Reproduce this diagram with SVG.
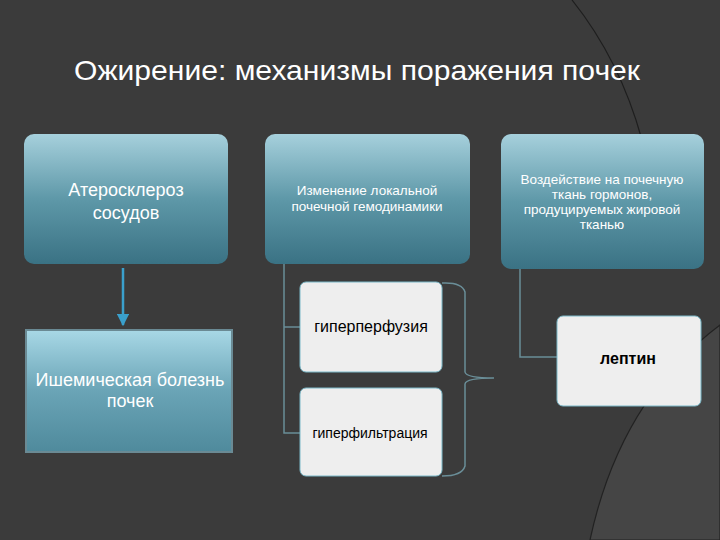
<svg xmlns="http://www.w3.org/2000/svg" width="720" height="540" viewBox="0 0 720 540">
<defs>
<linearGradient id="g1" x1="0" y1="0" x2="0" y2="1"><stop offset="0" stop-color="#a6d0dc"/><stop offset="0.5" stop-color="#5e98a8"/><stop offset="1" stop-color="#3a7284"/></linearGradient>
<linearGradient id="g2" x1="0" y1="0" x2="0" y2="1"><stop offset="0" stop-color="#a8d8e6"/><stop offset="0.5" stop-color="#6aa4b6"/><stop offset="1" stop-color="#4f8a9c"/></linearGradient>
<marker id="ar" viewBox="0 0 10 10" refX="9" refY="5" markerWidth="5" markerHeight="5" orient="auto"><path d="M0,0L10,5L0,10z" fill="#3aa0cc"/></marker>
</defs>
<style>
.t{font-family:"Liberation Sans",Arial,sans-serif;text-anchor:middle}
.w{fill:#fff}.k{fill:#000}
.c{fill:none;stroke:#6a8e98;stroke-width:1.5}
.wb{fill:#eeeeee;stroke:#7ab8c8;stroke-width:1}
</style>
<rect width="720" height="540" fill="#3b3b3b"/>
<path d="M572,0 Q620,60 642,140" fill="none" stroke="#1e1e1e" stroke-width="1.2"/>
<path d="M720,325 Q620,400 590,540 L720,540z" fill="#454545" stroke="#222" stroke-width="1.2"/>
<text x="357" y="80" class="t w" font-size="28" textLength="566" lengthAdjust="spacingAndGlyphs">Ожирение: механизмы поражения почек</text>
<g id="connectors">
<line x1="123" y1="268" x2="123" y2="325" stroke="#3aa0cc" stroke-width="2.5" marker-end="url(#ar)"/>
<polyline class="c" points="284,264 284,433 300,433"/>
<line class="c" x1="284" y1="327" x2="300" y2="327"/>
<polyline class="c" points="520,269 520,357 557,357"/>
<path class="c" d="M442,283 Q462,282 465,292 L465,372 Q466,378 494,378 Q466,378 465,384 L465,466 Q462,476 442,476" stroke="#4a9ab0"/>
</g>
<g id="n1"><rect x="24" y="134" width="204" height="130" rx="10" fill="url(#g1)"/><text x="126" y="196" class="t w" font-size="18">Атеросклероз</text><text x="126" y="219" class="t w" font-size="18">сосудов</text></g>
<g id="n2"><rect x="265" y="134" width="205" height="130" rx="10" fill="url(#g1)"/><text x="367" y="195" class="t w" font-size="13.5">Изменение локальной</text><text x="367" y="211" class="t w" font-size="13.5">почечной гемодинамики</text></g>
<g id="n3"><rect x="501" y="134" width="203" height="135" rx="10" fill="url(#g1)"/><text x="602" y="184" class="t w" font-size="13.5">Воздействие на почечную</text><text x="602" y="199" class="t w" font-size="13.5">ткань гормонов,</text><text x="602" y="214" class="t w" font-size="13.5">продуцируемых жировой</text><text x="602" y="229" class="t w" font-size="13.5">тканью</text></g>
<g id="n4"><rect x="26" y="330" width="206" height="122" fill="url(#g2)" stroke="#6a8a94" stroke-width="2"/><text x="130" y="386" class="t w" font-size="18">Ишемическая болезнь</text><text x="130" y="407" class="t w" font-size="18">почек</text></g>
<g id="n5"><rect x="300" y="282" width="142" height="90" rx="6" class="wb"/><text x="371" y="332" class="t k" font-size="16">гиперперфузия</text></g>
<g id="n6"><rect x="300" y="388" width="142" height="88" rx="6" class="wb"/><text x="370" y="438" class="t k" font-size="14">гиперфильтрация</text></g>
<g id="n7"><rect x="557" y="316" width="144" height="90" rx="6" class="wb"/><text x="628" y="364" class="t k" font-size="16" font-weight="bold">лептин</text></g>
</svg>
